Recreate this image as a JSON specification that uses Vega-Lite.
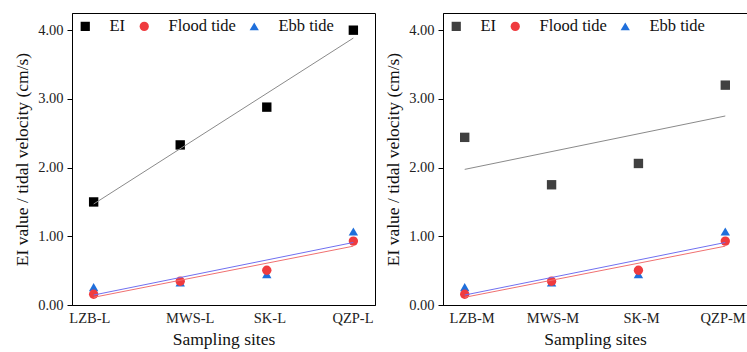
{
  "$schema": "https://vega.github.io/schema/vega-lite/v6.json",
  "padding": {"left": 13, "top": 12, "right": 2, "bottom": 4},
  "config": {
    "font": "Liberation Serif",
    "view": {"stroke": "black", "strokeWidth": 1},
    "axis": {"domainColor": "black", "tickColor": "black", "labelColor": "#222", "titleColor": "#111", "labelFont": "Liberation Serif", "titleFont": "Liberation Serif", "labelFontSize": 14.5, "titleFontSize": 17.5, "titleFontWeight": "normal", "grid": false, "labelOverlap": false, "labelFlush": false},
    "legend": {"orient": "top-left", "direction": "horizontal", "offset": 5, "labelFont": "Liberation Serif", "labelFontSize": 16.5, "labelColor": "#111", "symbolSize": 85, "labelOffset": 16, "columnPadding": 10, "symbolStrokeWidth": 0, "padding": 0},
    "concat": {"spacing": 8}
  },
  "datasets": {
    "d": [
      {"panel": "L", "i": 1, "series": "EI", "value": 1.50},
      {"panel": "L", "i": 2, "series": "EI", "value": 2.33},
      {"panel": "L", "i": 3, "series": "EI", "value": 2.88},
      {"panel": "L", "i": 4, "series": "EI", "value": 4.00},
      {"panel": "L", "i": 1, "series": "Ebb tide", "value": 0.26},
      {"panel": "L", "i": 2, "series": "Ebb tide", "value": 0.33},
      {"panel": "L", "i": 3, "series": "Ebb tide", "value": 0.45},
      {"panel": "L", "i": 4, "series": "Ebb tide", "value": 1.07},
      {"panel": "L", "i": 1, "series": "Flood tide", "value": 0.156},
      {"panel": "L", "i": 2, "series": "Flood tide", "value": 0.345},
      {"panel": "L", "i": 3, "series": "Flood tide", "value": 0.505},
      {"panel": "L", "i": 4, "series": "Flood tide", "value": 0.93},
      {"panel": "M", "i": 1, "series": "EI", "value": 2.44},
      {"panel": "M", "i": 2, "series": "EI", "value": 1.75},
      {"panel": "M", "i": 3, "series": "EI", "value": 2.06},
      {"panel": "M", "i": 4, "series": "EI", "value": 3.20},
      {"panel": "M", "i": 1, "series": "Ebb tide", "value": 0.26},
      {"panel": "M", "i": 2, "series": "Ebb tide", "value": 0.33},
      {"panel": "M", "i": 3, "series": "Ebb tide", "value": 0.45},
      {"panel": "M", "i": 4, "series": "Ebb tide", "value": 1.07},
      {"panel": "M", "i": 1, "series": "Flood tide", "value": 0.156},
      {"panel": "M", "i": 2, "series": "Flood tide", "value": 0.345},
      {"panel": "M", "i": 3, "series": "Flood tide", "value": 0.505},
      {"panel": "M", "i": 4, "series": "Flood tide", "value": 0.93}
    ]
  },
  "resolve": {"scale": {"color": "independent", "shape": "independent", "stroke": "independent"}, "legend": {"color": "independent", "shape": "independent"}},
  "hconcat": [
    {
      "width": 303, "height": 292,
      "data": {"name": "d"},
      "transform": [{"filter": "datum.panel == 'L'"}],
      "layer": [
        {
          "mark": {"type": "point", "filled": true, "opacity": 1, "size": 88},
          "encoding": {
            "x": {"field": "i", "type": "quantitative", "scale": {"domain": [0.75, 4.25], "nice": false, "zero": false},
              "axis": {"title": "Sampling sites", "values": [0.95, 2.11, 3.03, 3.99], "labelExpr": "datum.value < 1.5 ? 'LZB-L' : datum.value < 2.5 ? 'MWS-L' : datum.value < 3.5 ? 'SK-L' : 'QZP-L'", "ticks": false, "labelPadding": 6, "titlePadding": 6}},
            "y": {"field": "value", "type": "quantitative", "scale": {"domain": [0, 4.25], "nice": false},
              "axis": {"title": "EI value / tidal velocity (cm/s)", "values": [0, 0.5, 1, 1.5, 2, 2.5, 3, 3.5, 4], "labelExpr": "datum.value % 1 === 0 ? format(datum.value, '.2f') : ''", "tickSize": {"condition": {"test": "datum.value % 1 === 0", "value": 5}, "value": 3}, "labelPadding": 4, "titlePadding": 6}},
            "color": {"field": "series", "type": "nominal", "scale": {"domain": ["EI", "Flood tide", "Ebb tide"], "range": ["#000000", "#ef3b3f", "#1f6fdb"]}, "legend": {"title": null}},
            "shape": {"field": "series", "type": "nominal", "scale": {"domain": ["EI", "Flood tide", "Ebb tide"], "range": ["square", "circle", "triangle-up"]}, "legend": {"title": null}}
          }
        },
        {
          "transform": [{"regression": "value", "on": "i", "groupby": ["series"], "extent": [1, 4]}],
          "mark": {"type": "line", "strokeWidth": 1},
          "encoding": {
            "x": {"field": "i", "type": "quantitative"},
            "y": {"field": "value", "type": "quantitative"},
            "stroke": {"field": "series", "type": "nominal", "scale": {"domain": ["EI", "Flood tide", "Ebb tide"], "range": ["#8a8a8a", "#f07070", "#7070f0"]}, "legend": null}
          }
        }
      ]
    },
    {
      "width": 304, "height": 292,
      "data": {"name": "d"},
      "transform": [{"filter": "datum.panel == 'M'"}],
      "layer": [
        {
          "mark": {"type": "point", "filled": true, "opacity": 1, "size": 88},
          "encoding": {
            "x": {"field": "i", "type": "quantitative", "scale": {"domain": [0.75, 4.25], "nice": false, "zero": false},
              "axis": {"title": "Sampling sites", "values": [1.08, 2.01, 3.03, 3.97], "labelExpr": "datum.value < 1.5 ? 'LZB-M' : datum.value < 2.5 ? 'MWS-M' : datum.value < 3.5 ? 'SK-M' : 'QZP-M'", "ticks": false, "labelPadding": 6, "titlePadding": 6}},
            "y": {"field": "value", "type": "quantitative", "scale": {"domain": [0, 4.25], "nice": false},
              "axis": {"title": "EI value / tidal velocity (cm/s)", "values": [0, 0.5, 1, 1.5, 2, 2.5, 3, 3.5, 4], "labelExpr": "datum.value % 1 === 0 ? format(datum.value, '.2f') : ''", "tickSize": {"condition": {"test": "datum.value % 1 === 0", "value": 5}, "value": 3}, "labelPadding": 4, "titlePadding": 6}},
            "color": {"field": "series", "type": "nominal", "scale": {"domain": ["EI", "Flood tide", "Ebb tide"], "range": ["#404040", "#ef3b3f", "#1f6fdb"]}, "legend": {"title": null}},
            "shape": {"field": "series", "type": "nominal", "scale": {"domain": ["EI", "Flood tide", "Ebb tide"], "range": ["square", "circle", "triangle-up"]}, "legend": {"title": null}}
          }
        },
        {
          "transform": [{"regression": "value", "on": "i", "groupby": ["series"], "extent": [1, 4]}],
          "mark": {"type": "line", "strokeWidth": 1},
          "encoding": {
            "x": {"field": "i", "type": "quantitative"},
            "y": {"field": "value", "type": "quantitative"},
            "stroke": {"field": "series", "type": "nominal", "scale": {"domain": ["EI", "Flood tide", "Ebb tide"], "range": ["#8a8a8a", "#f07070", "#7070f0"]}, "legend": null}
          }
        }
      ]
    }
  ]
}
